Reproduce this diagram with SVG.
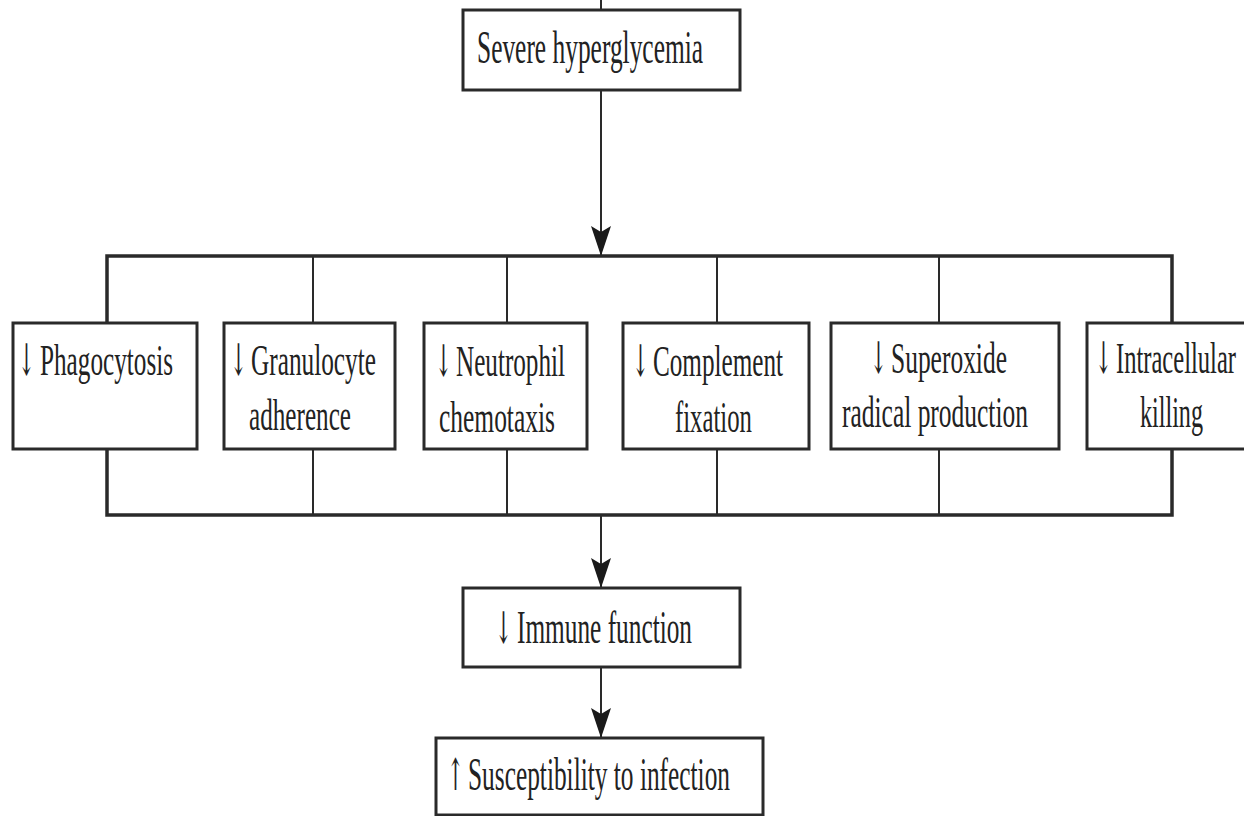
<svg xmlns="http://www.w3.org/2000/svg" width="1244" height="816" viewBox="0 0 1244 816">
<style>
.box{fill:#fff;stroke:#2a2a2a;stroke-width:3}
.t{font-family:"Liberation Serif","Times New Roman",serif;font-size:44px;fill:#222}
.b{font-size:46px}
.a{font-family:"DejaVu Serif","DejaVu Sans",serif;font-size:44px;fill:#222}
.c{stroke:#2a2a2a;stroke-width:2;fill:none}
.bus{stroke:#2a2a2a;stroke-width:3.5;fill:none}
</style>
<defs>
<marker id="ah" viewBox="0 0 30 20" refX="30" refY="10" markerWidth="30" markerHeight="20" markerUnits="userSpaceOnUse" orient="auto">
<path d="M0,0 L30,10 L0,20 L6,10 z" fill="#1a1a1a"/>
</marker>
</defs>
<g id="connectors">
<line class="c" x1="601" y1="0" x2="601" y2="10"/>
<line class="c" x1="601" y1="90" x2="601" y2="256" marker-end="url(#ah)"/>
<polyline class="bus" points="107,323 107,256 1172,256 1172,323"/>
<line class="c" x1="313" y1="256" x2="313" y2="323"/>
<line class="c" x1="507" y1="256" x2="507" y2="323"/>
<line class="c" x1="717" y1="256" x2="717" y2="323"/>
<line class="c" x1="939" y1="256" x2="939" y2="323"/>
<polyline class="bus" points="107,449 107,515 1172,515 1172,449"/>
<line class="c" x1="313" y1="449" x2="313" y2="515"/>
<line class="c" x1="507" y1="449" x2="507" y2="515"/>
<line class="c" x1="717" y1="449" x2="717" y2="515"/>
<line class="c" x1="939" y1="449" x2="939" y2="515"/>
<line class="c" x1="601" y1="515" x2="601" y2="588" marker-end="url(#ah)"/>
<line class="c" x1="601" y1="667" x2="601" y2="738" marker-end="url(#ah)"/>
</g>
<g id="n-hyperglycemia">
<rect class="box" x="463" y="10" width="277" height="80"/>
<text class="t b" transform="translate(477,63) scale(0.56,1)" textLength="403.6" lengthAdjust="spacingAndGlyphs">Severe hyperglycemia</text>
</g>
<g id="n-phagocytosis">
<rect class="box" x="13" y="323" width="184" height="126"/>
<text class="a" transform="translate(18,375) scale(0.46,1)">↓</text>
<text class="t" transform="translate(40,375) scale(0.56,1)" textLength="237.5" lengthAdjust="spacingAndGlyphs">Phagocytosis</text>
</g>
<g id="n-granulocyte">
<rect class="box" x="224" y="323" width="171" height="126"/>
<text class="a" transform="translate(230,375) scale(0.46,1)">↓</text>
<text class="t" transform="translate(251,375) scale(0.56,1)" textLength="223.2" lengthAdjust="spacingAndGlyphs">Granulocyte</text>
<text class="t" transform="translate(249,430) scale(0.56,1)" textLength="182.1" lengthAdjust="spacingAndGlyphs">adherence</text>
</g>
<g id="n-neutrophil">
<rect class="box" x="424" y="323" width="163" height="126"/>
<text class="a" transform="translate(435,376) scale(0.46,1)">↓</text>
<text class="t" transform="translate(456,376) scale(0.56,1)" textLength="194.6" lengthAdjust="spacingAndGlyphs">Neutrophil</text>
<text class="t" transform="translate(439,432) scale(0.56,1)" textLength="207.1" lengthAdjust="spacingAndGlyphs">chemotaxis</text>
</g>
<g id="n-complement">
<rect class="box" x="623" y="323" width="186" height="126"/>
<text class="a" transform="translate(632,376) scale(0.46,1)">↓</text>
<text class="t" transform="translate(653,376) scale(0.56,1)" textLength="232.1" lengthAdjust="spacingAndGlyphs">Complement</text>
<text class="t" transform="translate(675,432) scale(0.56,1)" textLength="137.5" lengthAdjust="spacingAndGlyphs">fixation</text>
</g>
<g id="n-superoxide">
<rect class="box" x="831" y="323" width="228" height="126"/>
<text class="a" transform="translate(870,373) scale(0.46,1)">↓</text>
<text class="t" transform="translate(891,373) scale(0.56,1)" textLength="207.1" lengthAdjust="spacingAndGlyphs">Superoxide</text>
<text class="t" transform="translate(842,427) scale(0.56,1)" textLength="332.1" lengthAdjust="spacingAndGlyphs">radical production</text>
</g>
<g id="n-intracellular">
<rect class="box" x="1087" y="323" width="170" height="126"/>
<text class="a" transform="translate(1095,373) scale(0.46,1)">↓</text>
<text class="t" transform="translate(1116,373) scale(0.56,1)" textLength="214.3" lengthAdjust="spacingAndGlyphs">Intracellular</text>
<text class="t" transform="translate(1140,427) scale(0.56,1)" textLength="112.5" lengthAdjust="spacingAndGlyphs">killing</text>
</g>
<g id="n-immune">
<rect class="box" x="463" y="588" width="277" height="79"/>
<text class="a" transform="translate(495,643) scale(0.46,1)">↓</text>
<text class="t b" transform="translate(517,643) scale(0.56,1)" textLength="312.5" lengthAdjust="spacingAndGlyphs">Immune function</text>
</g>
<g id="n-susceptibility">
<rect class="box" x="436" y="738" width="327" height="77"/>
<text class="a" transform="translate(447,790) scale(0.46,1)">↑</text>
<text class="t b" transform="translate(468,790) scale(0.56,1)" textLength="467.9" lengthAdjust="spacingAndGlyphs">Susceptibility to infection</text>
</g>
</svg>
